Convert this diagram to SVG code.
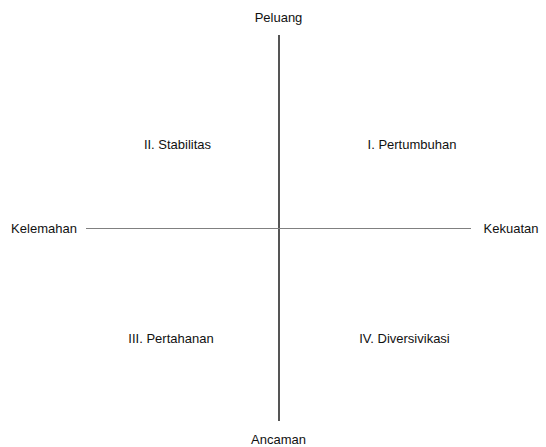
<svg xmlns="http://www.w3.org/2000/svg" width="546" height="447" viewBox="0 0 546 447">
<style>
text{font-family:"Liberation Sans",Arial,sans-serif;font-size:13px;fill:#111;text-anchor:middle}
</style>
<rect width="546" height="447" fill="#fff"/>
<g id="connectors">
<line x1="279" y1="35" x2="279" y2="421" stroke="#555" stroke-width="2"/>
<line x1="86" y1="228.5" x2="471" y2="228.5" stroke="#808080" stroke-width="1"/>
</g>
<g id="peluang"><text x="278.5" y="22">Peluang</text></g>
<g id="kelemahan"><text x="44" y="233">Kelemahan</text></g>
<g id="kekuatan"><text x="511" y="233">Kekuatan</text></g>
<g id="ancaman"><text x="278.5" y="444">Ancaman</text></g>
<g id="q2"><text x="177.5" y="149">II. Stabilitas</text></g>
<g id="q1"><text x="412" y="149">I. Pertumbuhan</text></g>
<g id="q3"><text x="171" y="343">III. Pertahanan</text></g>
<g id="q4"><text x="404.5" y="343">IV. Diversivikasi</text></g>
</svg>
